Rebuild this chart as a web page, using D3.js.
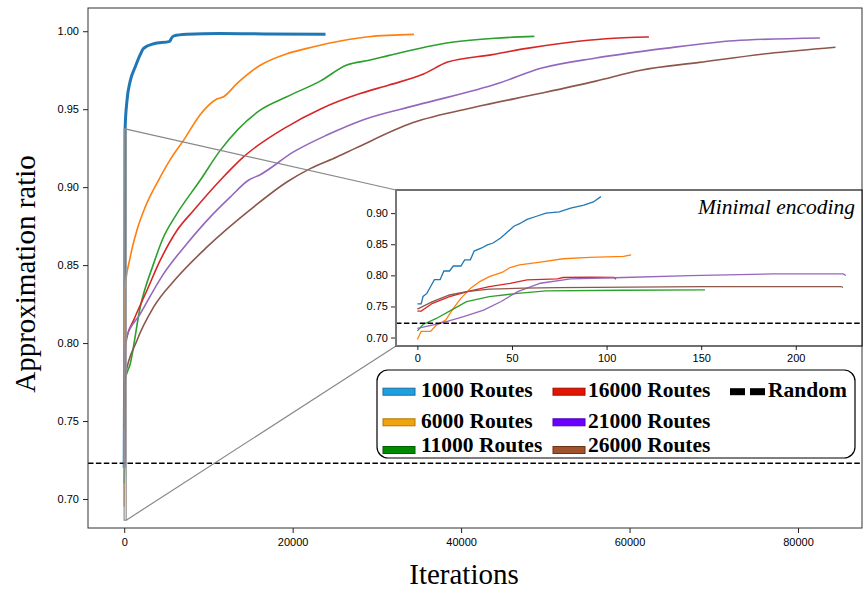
<!DOCTYPE html>
<html lang="en">
<head>
<meta charset="UTF-8">
<title>Approximation ratio vs iterations</title>
<script src="https://cdn.jsdelivr.net/npm/d3@7"></script>
<style>
  body { margin: 0; background: #fff; }
  svg { display: block; font-family: 'DejaVu Sans', sans-serif; }
  .tick text { font-size: 11px; fill: #000; }
  .tick line { stroke: #222; }
  .serif { font-family: 'Liberation Serif', 'Times New Roman', serif; }
</style>
</head>
<body>
<svg id="chart" width="863" height="592"></svg>
<script>
// main run: [iteration, approximation ratio]
const main1000 = [[0,0.72],[60,0.80],[110,0.938],[320,0.955],[710,0.968],[1300,0.977],[1900,0.985],[2300,0.989],[3500,0.992],[5400,0.9935],[5600,0.9955],[5900,0.997],[7400,0.998],[11400,0.9986],[17000,0.9983],[23900,0.998]];
const main6000 = [[0,0.695],[80,0.834],[710,0.855],[1500,0.8722],[2490,0.8872],[4070,0.9044],[5500,0.918],[7040,0.930],[9020,0.9465],[11000,0.9565],[11800,0.958],[13400,0.9665],[16100,0.978],[19300,0.9855],[21700,0.989],[24000,0.992],[29000,0.9965],[34400,0.998]];
const main11000 = [[0,0.710],[60,0.73],[120,0.776],[710,0.7866],[1900,0.823],[3480,0.8508],[4670,0.868],[6260,0.883],[9020,0.9044],[11400,0.9236],[16140,0.9494],[19310,0.958],[23260,0.968],[26430,0.9783],[29200,0.9815],[31450,0.9845],[38900,0.9929],[44000,0.9955],[48700,0.9967]];
const main16000 = [[0,0.76],[60,0.78],[120,0.795],[320,0.8037],[1100,0.8144],[2690,0.8337],[4270,0.853],[6260,0.8722],[8230,0.885],[11400,0.9044],[14160,0.9194],[19310,0.9387],[23260,0.950],[28000,0.960],[31450,0.9655],[35540,0.9725],[38400,0.9802],[43700,0.985],[47800,0.989],[52700,0.9928],[57200,0.9952],[62300,0.9963]];
const main21000 = [[0,0.72],[60,0.76],[120,0.8015],[1900,0.8187],[4670,0.8444],[7440,0.8637],[10200,0.8808],[12580,0.8936],[14750,0.9044],[16140,0.9080],[20100,0.9226],[24060,0.9334],[28580,0.9436],[34730,0.9526],[44550,0.9668],[49470,0.9762],[56000,0.9828],[64200,0.989],[72400,0.9939],[82600,0.9957]];
const main26000 = [[0,0.745],[60,0.765],[100,0.778],[1500,0.8015],[3480,0.823],[6260,0.842],[9810,0.8615],[15350,0.8872],[19310,0.9033],[22080,0.9119],[25250,0.9194],[27360,0.9247],[34300,0.9414],[41690,0.9514],[49470,0.9602],[56000,0.968],[61330,0.975],[68300,0.980],[76500,0.9857],[84450,0.9897]];

// inset: minimal encoding run
const min1000 = [[0,0.754],[2,0.754],[3,0.766],[5,0.771],[7,0.782],[9,0.793],[12,0.793],[14,0.807],[17,0.807],[19,0.815],[23,0.815],[25,0.825],[28,0.825],[30,0.839],[34,0.844],[37,0.849],[40,0.852],[44,0.860],[47,0.868],[51,0.879],[54,0.883],[58,0.890],[63,0.895],[68,0.900],[75,0.902],[81,0.908],[88,0.913],[93,0.918],[97,0.9265]];
const min6000 = [[0,0.697],[2,0.710],[7,0.710],[10,0.720],[15,0.728],[19,0.747],[23,0.763],[28,0.779],[33,0.790],[38,0.798],[42,0.802],[45,0.805],[49,0.8126],[54,0.817],[65,0.8214],[77,0.8267],[91,0.8288],[109,0.8304],[113,0.833]];
const min11000 = [[0,0.7107],[3,0.721],[10,0.7307],[17,0.7425],[26,0.7576],[38,0.7657],[53,0.771],[68,0.775],[109,0.776],[152,0.7765]];
const min16000 = [[0,0.7425],[2,0.7425],[8,0.755],[17,0.7657],[28,0.775],[38,0.782],[49,0.787],[58,0.7927],[74,0.7943],[77,0.7965],[91,0.797],[104,0.7965],[105,0.7938]];
const min21000 = [[0,0.7146],[12,0.7227],[24,0.7333],[35,0.744],[44,0.7576],[53,0.7738],[65,0.7873],[81,0.7943],[109,0.7965],[144,0.7997],[188,0.8024],[225,0.8024],[226.5,0.7997]];
const min26000 = [[0,0.7458],[8,0.7576],[17,0.7684],[26,0.7738],[38,0.7777],[56,0.7793],[74,0.7803],[151,0.7819],[224,0.782],[225,0.7805]];

const randomRatio = 0.723;

const mainXTicks = [0, 20000, 40000, 60000, 80000];
const mainYTicks = [0.70, 0.75, 0.80, 0.85, 0.90, 0.95, 1.00];
const insetXTicks = [0, 50, 100, 150, 200];
const insetYTicks = [0.70, 0.75, 0.80, 0.85, 0.90];

const seriesLabels = ["1000 Routes", "6000 Routes", "11000 Routes", "16000 Routes", "21000 Routes", "26000 Routes"];
const lineColors = ["#1f77b4", "#ff7f0e", "#2ca02c", "#d62728", "#9467bd", "#8c564b"];
const legendFill = ["#1ba1e2", "#f0a30a", "#008a00", "#e51400", "#6a00ff", "#a0522d"];
const legendEdge = ["#1a6fa0", "#b07808", "#005f00", "#a00e00", "#4a00b0", "#6b3518"];

const mainSeries = [main1000, main6000, main11000, main16000, main21000, main26000];
const insetSeries = [min1000, min6000, min11000, min16000, min21000, min26000];

const svg = d3.select("#chart");

// main axes
const plot = { left: 88, right: 862, top: 8, bottom: 528 };
const x = d3.scaleLinear().domain([-4300, 87600]).range([plot.left, plot.right]);
const y = d3.scaleLinear().domain([0.6814, 1.0149]).range([plot.bottom, plot.top]);

svg.append("g")
    .attr("transform", `translate(0,${plot.bottom})`)
    .call(d3.axisBottom(x).tickValues(mainXTicks).tickFormat(d3.format("d")).tickSize(5).tickSizeOuter(0).tickPadding(5))
    .call(g => g.select(".domain").remove());

svg.append("g")
    .attr("transform", `translate(${plot.left},0)`)
    .call(d3.axisLeft(y).tickValues(mainYTicks).tickFormat(d3.format(".2f")).tickSize(5).tickSizeOuter(0).tickPadding(4))
    .call(g => g.select(".domain").remove());

const mainLine = d3.line().curve(d3.curveMonotoneX).x(d => x(d[0])).y(d => y(d[1]));

mainSeries.forEach((s, i) => {
    svg.append("path")
        .datum(s)
        .attr("d", mainLine)
        .attr("fill", "none")
        .attr("stroke", lineColors[i])
        .attr("stroke-width", i === 0 ? 3 : 1.6)
        .attr("stroke-linejoin", "round");
});

svg.append("line")
    .attr("x1", plot.left).attr("x2", plot.right)
    .attr("y1", y(randomRatio)).attr("y2", y(randomRatio))
    .attr("stroke", "#000").attr("stroke-width", 1.5)
    .attr("stroke-dasharray", "5.5,2.4");

svg.append("rect")
    .attr("x", plot.left).attr("y", plot.top)
    .attr("width", plot.right - plot.left).attr("height", plot.bottom - plot.top)
    .attr("fill", "none").attr("stroke", "#333").attr("stroke-width", 1);

// inset
const ins = { left: 396, right: 862, top: 190, bottom: 346 };
const xi = d3.scaleLinear().domain([-11.3, 235]).range([ins.left, ins.right]);
const yi = d3.scaleLinear().domain([0.6864, 0.9372]).range([ins.bottom, ins.top]);

// zoom marker and connectors
const zx0 = x(xi.domain()[0]), zx1 = x(xi.domain()[1]);
const zyTop = y(yi.domain()[1]), zyBot = y(yi.domain()[0]);
svg.append("rect")
    .attr("x", zx0).attr("y", zyTop)
    .attr("width", zx1 - zx0).attr("height", zyBot - zyTop)
    .attr("fill", "none").attr("stroke", "#999").attr("stroke-width", 1.3);
svg.append("line").attr("x1", zx1).attr("y1", zyTop).attr("x2", ins.left).attr("y2", ins.top)
    .attr("stroke", "#888").attr("stroke-width", 1.2);
svg.append("line").attr("x1", zx1).attr("y1", zyBot).attr("x2", ins.left).attr("y2", ins.bottom)
    .attr("stroke", "#888").attr("stroke-width", 1.2);

svg.append("rect")
    .attr("x", ins.left).attr("y", ins.top)
    .attr("width", ins.right - ins.left).attr("height", ins.bottom - ins.top)
    .attr("fill", "#fff");

svg.append("g")
    .attr("transform", `translate(0,${ins.bottom})`)
    .call(d3.axisBottom(xi).tickValues(insetXTicks).tickSize(4).tickSizeOuter(0).tickPadding(4))
    .call(g => g.select(".domain").remove());

svg.append("g")
    .attr("transform", `translate(${ins.left},0)`)
    .call(d3.axisLeft(yi).tickValues(insetYTicks).tickFormat(d3.format(".2f")).tickSize(5).tickSizeOuter(0).tickPadding(3))
    .call(g => g.select(".domain").remove());

const insetLine = d3.line().x(d => xi(d[0])).y(d => yi(d[1]));
insetSeries.forEach((s, i) => {
    svg.append("path")
        .datum(s)
        .attr("d", insetLine)
        .attr("fill", "none")
        .attr("stroke", lineColors[i])
        .attr("stroke-width", 1.3);
});

svg.append("line")
    .attr("x1", ins.left).attr("x2", ins.right)
    .attr("y1", yi(randomRatio)).attr("y2", yi(randomRatio))
    .attr("stroke", "#000").attr("stroke-width", 1.5)
    .attr("stroke-dasharray", "5.5,2.4");

svg.append("rect")
    .attr("x", ins.left).attr("y", ins.top)
    .attr("width", ins.right - ins.left).attr("height", ins.bottom - ins.top)
    .attr("fill", "none").attr("stroke", "#111").attr("stroke-width", 1.2);
svg.append("line")
    .attr("x1", ins.left).attr("x2", ins.left).attr("y1", ins.top).attr("y2", ins.bottom)
    .attr("stroke", "#777").attr("stroke-width", 2);

svg.append("text")
    .attr("class", "serif")
    .attr("x", 855).attr("y", 214)
    .attr("text-anchor", "end")
    .attr("font-style", "italic")
    .attr("font-size", 21.5)
    .text("Minimal encoding");

// legend
const legend = svg.append("g");
legend.append("rect")
    .attr("x", 377).attr("y", 370).attr("width", 478).attr("height", 88)
    .attr("rx", 11).attr("fill", "#fff").attr("stroke", "#000").attr("stroke-width", 1.2);

const colX = [383, 553];
const textX = [421, 588];
const rowBase = [397, 428, 452.3];
const rowPatch = [391.7, 422.3, 450];

seriesLabels.forEach((lab, i) => {
    const c = Math.floor(i / 3), r = i % 3;
    legend.append("rect")
        .attr("x", colX[c]).attr("y", rowPatch[r] - 3.5)
        .attr("width", 32).attr("height", 7)
        .attr("fill", legendFill[i]).attr("stroke", legendEdge[i]).attr("stroke-width", 1);
    legend.append("text")
        .attr("class", "serif")
        .attr("x", textX[c]).attr("y", rowBase[r])
        .attr("font-weight", "bold").attr("font-size", 21.5)
        .text(lab);
});

[730, 750].forEach(px => {
    legend.append("rect")
        .attr("x", px).attr("y", rowPatch[0] - 3.5)
        .attr("width", 15).attr("height", 7).attr("fill", "#000");
});
legend.append("text")
    .attr("class", "serif")
    .attr("x", 768).attr("y", rowBase[0])
    .attr("font-weight", "bold").attr("font-size", 21.5)
    .text("Random");

// axis titles
svg.append("text")
    .attr("class", "serif")
    .attr("x", 464).attr("y", 584)
    .attr("text-anchor", "middle")
    .attr("font-size", 29)
    .text("Iterations");

svg.append("text")
    .attr("class", "serif")
    .attr("transform", "translate(35,274) rotate(-90)")
    .attr("text-anchor", "middle")
    .attr("font-size", 29)
    .text("Approximation ratio");
</script>
</body>
</html>
